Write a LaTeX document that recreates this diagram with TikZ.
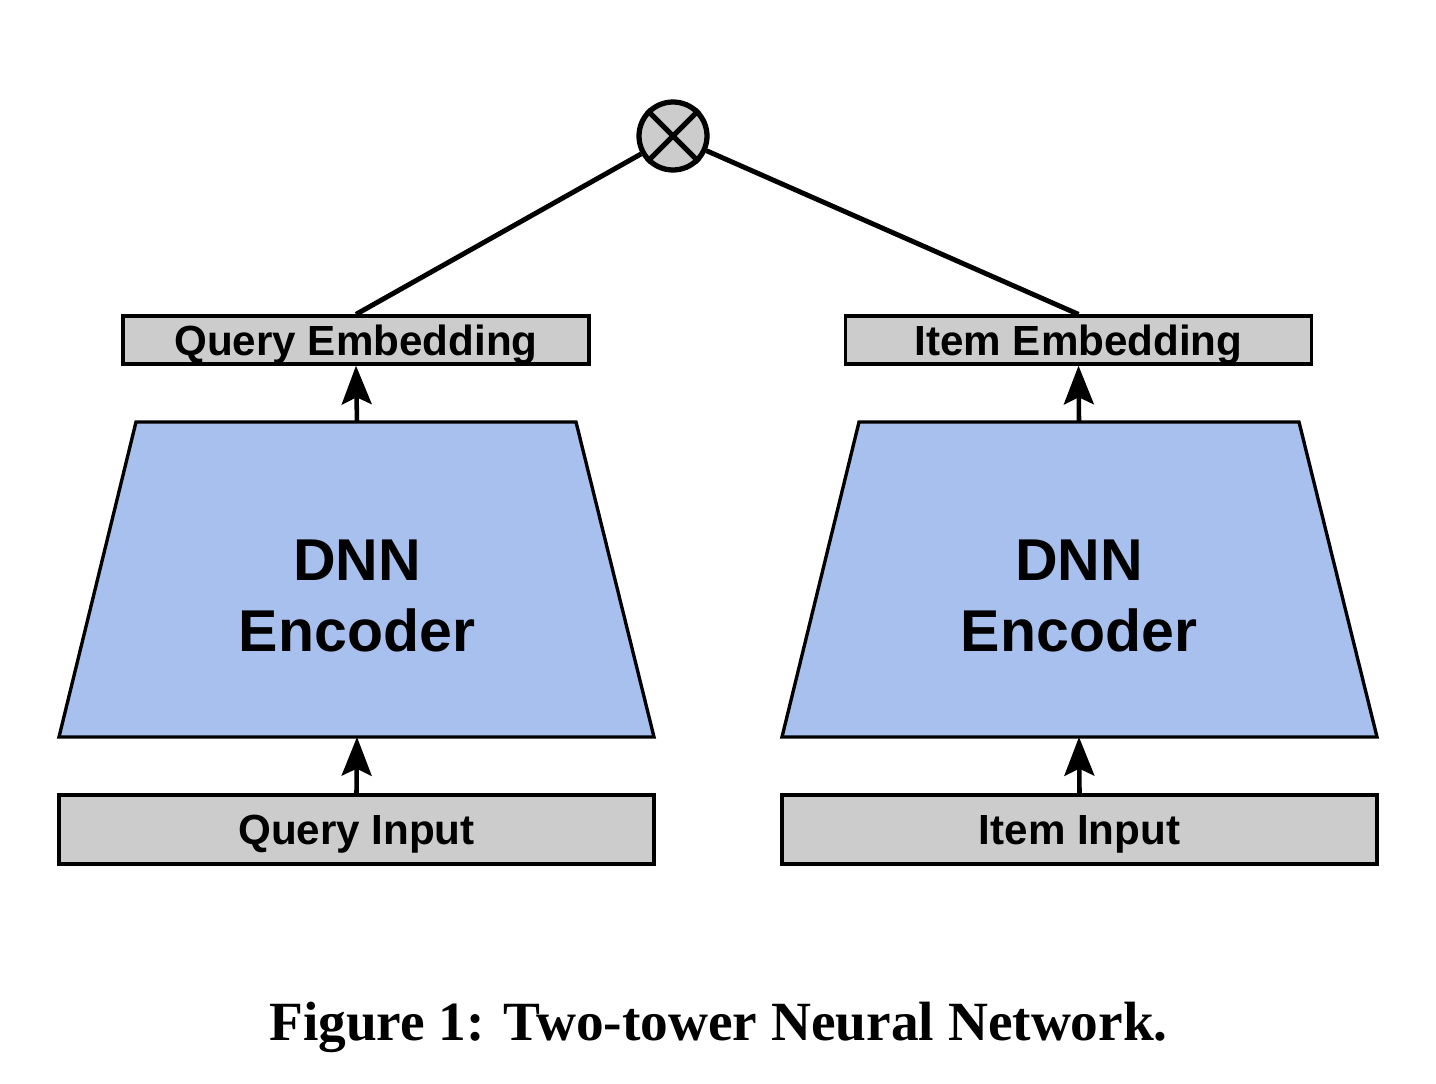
\documentclass[tikz,border=0pt]{standalone}
\usepackage{fontspec}
\setmainfont{Liberation Sans}
\newfontfamily\capfont{Liberation Serif}
\usetikzlibrary{arrows.meta}
\definecolor{boxgray}{HTML}{CCCCCC}
\definecolor{encblue}{HTML}{A8C0EE}
\begin{document}
\begin{tikzpicture}[x=0.02cm,y=-0.02cm,
    embbox/.style={draw,fill=boxgray,line width=1.9pt,minimum width=9.32cm,minimum height=0.96cm,inner sep=0pt,text height=17.2pt,text depth=0pt,font=\fontsize{24}{28}\selectfont\bfseries},
    inbox/.style={draw,fill=boxgray,line width=1.9pt,minimum width=11.9cm,minimum height=1.38cm,inner sep=0pt,text height=17.2pt,text depth=0pt,font=\fontsize{24}{28}\selectfont\bfseries},
    encoder/.style={draw,fill=encblue,line width=1.9pt},
    enctext/.style={align=center,font=\fontsize{33.6}{40}\selectfont\bfseries},
    arr/.style={line width=2.6pt,-{Stealth[length=22pt,width=17pt,inset=4pt]}},
    link/.style={line width=2.8pt}]
    \useasboundingbox (0,0) rectangle (1436,1084);
    \node[draw,fill=boxgray,circle,minimum size=1.36cm,inner sep=0pt,line width=3pt] (prod) at (673,136) {};
    \draw[line width=3pt] (prod.north west) -- (prod.south east);
    \draw[line width=3pt] (prod.north east) -- (prod.south west);
    \node[embbox] (qemb) at (356,340) {Query Embedding};
    \node[embbox] (iemb) at (1078.5,340) {Item Embedding};
    \draw[encoder] (59,737) -- (654,737) -- (576,422) -- (136,422) -- cycle;
    \draw[encoder] (782,737) -- (1377,737) -- (1299,422) -- (859,422) -- cycle;
    \coordinate (qtop) at (357,422);
    \coordinate (qbot) at (357,737);
    \coordinate (itop) at (1079,422);
    \coordinate (ibot) at (1079,737);
    \node[enctext] (qenc) at (357,596) {DNN\\Encoder};
    \node[enctext] (ienc) at (1079,596) {DNN\\Encoder};
    \node[inbox] (qin) at (356.5,829.5) {Query Input};
    \node[inbox] (iin) at (1079.5,829.5) {Item Input};
    \draw[arr] (qtop) -- (qemb.south);
    \draw[arr] (itop) -- (iemb.south);
    \draw[arr] (qin.north) -- (qbot);
    \draw[arr] (iin.north) -- (ibot);
    \draw[link] (prod) -- (qemb.north);
    \draw[link] (prod) -- (iemb.north);
    \node[anchor=base,font=\capfont\fontsize{31.5}{36}\selectfont\bfseries] (cap) at (718.5,1040) {Figure 1: Two-tower Neural Network.};
\end{tikzpicture}
\end{document}
